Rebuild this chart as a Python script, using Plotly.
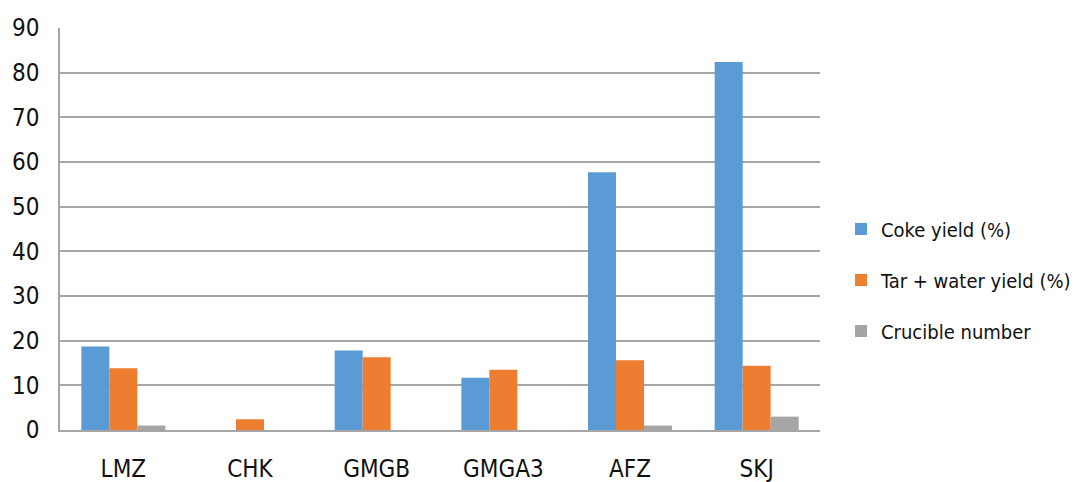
import plotly.graph_objects as go

# Sample categories and measured yields
categories = ["LMZ", "CHK", "GMGB", "GMGA3", "AFZ", "SKJ"]
coke_yield = [18.7, 0, 17.8, 11.7, 57.7, 82.4]
tar_water_yield = [13.8, 2.4, 16.3, 13.5, 15.6, 14.4]
crucible_number = [1, 0, 0, 0, 1, 3]
y_ticks = [0, 10, 20, 30, 40, 50, 60, 70, 80, 90]

series = [
    ("Coke yield (%)", coke_yield, "#5B9BD5"),
    ("Tar + water yield (%)", tar_water_yield, "#ED7D31"),
    ("Crucible number", crucible_number, "#A5A5A5"),
]

FONT = "DejaVu Sans Condensed, Liberation Sans Narrow, sans-serif"

fig = go.Figure()
for i, (name, vals, color) in enumerate(series):
    fig.add_trace(go.Bar(
        x=categories, y=vals, name=name,
        marker=dict(color=color, line=dict(width=0)),
        legendgroup=f"g{i}",
    ))

fig.update_layout(
    width=1075, height=482,
    margin=dict(l=60, r=255, t=28, b=52, autoexpand=False),
    paper_bgcolor="white", plot_bgcolor="white",
    barmode="group", bargap=0.337, bargroupgap=0,
    font=dict(family=FONT, size=24, color="#111111"),
    showlegend=True,
    legend=dict(
        xref="container", yref="container",
        x=841 / 1075, xanchor="left", y=1 - 280 / 482, yanchor="middle",
        font=dict(family=FONT, size=20, color="#111111"),
        traceorder="grouped", tracegroupgap=22,
        bgcolor="rgba(0,0,0,0)",
    ),
)

fig.update_xaxes(
    automargin=False,
    showgrid=False, showline=True, linecolor="#a6a6a6", linewidth=1.5,
    ticks="", ticklabelstandoff=16,
    tickfont=dict(family=FONT, size=24, color="#111111"),
)
fig.update_yaxes(
    automargin=False,
    range=[0, 90], tickvals=y_ticks,
    showgrid=True, gridcolor="#a6a6a6", gridwidth=1.5,
    showline=True, linecolor="#a6a6a6", linewidth=1.5,
    zeroline=False, ticks="", ticklabelstandoff=14,
    tickfont=dict(family=FONT, size=24, color="#111111"),
)

fig.write_html("out.html")
